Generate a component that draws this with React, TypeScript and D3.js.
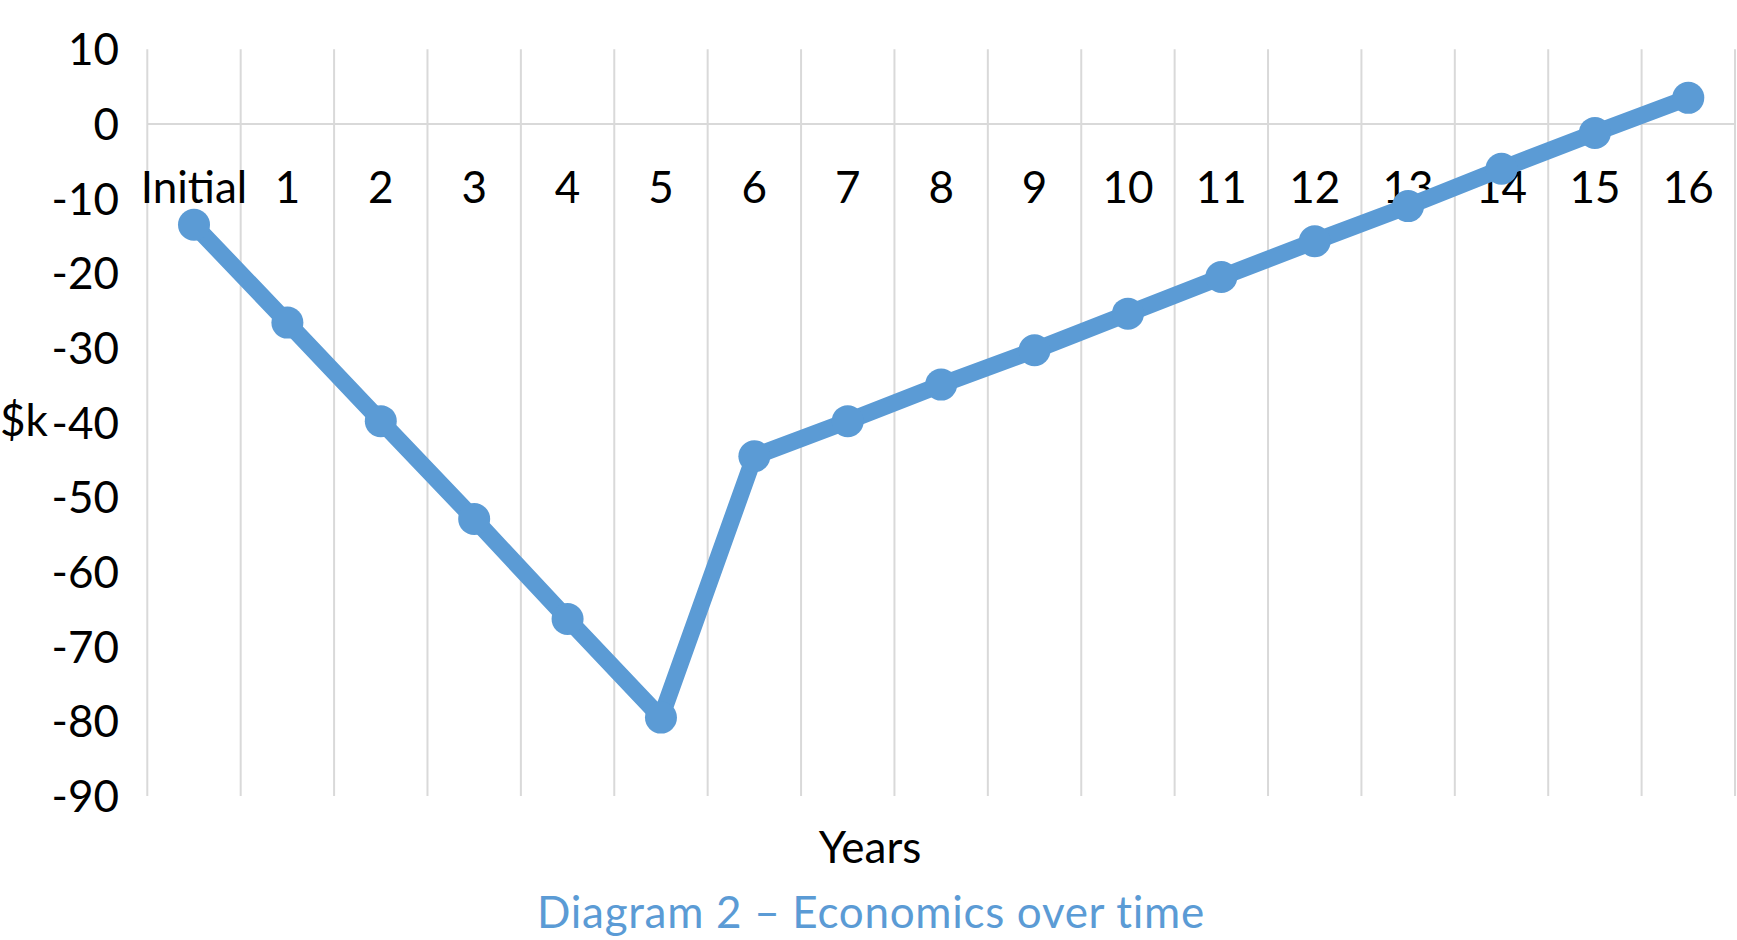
import * as d3 from "d3";
import React, { useEffect, useRef } from "react";

const categories = ["Initial", "1", "2", "3", "4", "5", "6", "7", "8", "9", "10", "11", "12", "13", "14", "15", "16"];
const values = [-13.5, -26.6, -39.8, -52.9, -66.3, -79.5, -44.5, -39.8, -34.9, -30.3, -25.4, -20.5, -15.7, -11.0, -6.0, -1.2, 3.5];
const yTicks = [10, 0, -10, -20, -30, -40, -50, -60, -70, -80, -90];

const BLUE = "#5B9BD5";
const GRID = "#D9D9D9";
const FONT = "Lato, 'Open Sans', sans-serif";

export default function App() {
  const ref = useRef<SVGSVGElement>(null);

  useEffect(() => {
    const width = 1737;
    const height = 940;
    const svg = d3.select(ref.current).attr("width", width).attr("height", height);
    svg.selectAll("*").remove();

    const xScale = d3.scaleBand<string>().domain(categories).range([147.3, 1735]);
    const yScale = d3.scaleLinear().domain([-90, 10]).range([796, 49.3]);

    // vertical gridlines at the band edges
    const edges = categories.map((c) => xScale(c) as number).concat([1735]);
    svg
      .append("g")
      .selectAll("line")
      .data(edges)
      .enter()
      .append("line")
      .attr("x1", (d) => d)
      .attr("x2", (d) => d)
      .attr("y1", yScale(10))
      .attr("y2", yScale(-90))
      .attr("stroke", GRID)
      .attr("stroke-width", 2);

    // horizontal axis line at 0
    svg
      .append("line")
      .attr("x1", xScale.range()[0])
      .attr("x2", xScale.range()[1])
      .attr("y1", yScale(0))
      .attr("y2", yScale(0))
      .attr("stroke", GRID)
      .attr("stroke-width", 2);

    // y tick labels
    svg
      .append("g")
      .selectAll("text")
      .data(yTicks)
      .enter()
      .append("text")
      .attr("x", 119)
      .attr("y", (d) => yScale(d) - 1)
      .attr("dominant-baseline", "central")
      .attr("text-anchor", "end")
      .attr("font-family", FONT)
      .attr("font-size", 44)
      .attr("fill", "#000")
      .text((d) => d);

    // category labels
    svg
      .append("g")
      .selectAll("text")
      .data(categories)
      .enter()
      .append("text")
      .attr("x", (d) => (xScale(d) as number) + xScale.bandwidth() / 2)
      .attr("y", 203)
      .attr("text-anchor", "middle")
      .attr("font-family", FONT)
      .attr("font-size", 44)
      .attr("fill", "#000")
      .text((d) => d);

    const pts = categories.map((c, i) => [
      (xScale(c) as number) + xScale.bandwidth() / 2,
      yScale(values[i]),
    ] as [number, number]);

    const line = d3.line();
    svg
      .append("path")
      .attr("d", line(pts))
      .attr("fill", "none")
      .attr("stroke", BLUE)
      .attr("stroke-width", 17)
      .attr("stroke-linejoin", "round");

    svg
      .append("g")
      .selectAll("circle")
      .data(pts)
      .enter()
      .append("circle")
      .attr("cx", (d) => d[0])
      .attr("cy", (d) => d[1])
      .attr("r", 16)
      .attr("fill", BLUE);

    // axis titles
    svg
      .append("text")
      .attr("x", 0)
      .attr("y", 436)
      .attr("font-family", FONT)
      .attr("font-size", 44)
      .attr("fill", "#000")
      .text("$k");

    svg
      .append("text")
      .attr("x", 870)
      .attr("y", 863)
      .attr("text-anchor", "middle")
      .attr("font-family", FONT)
      .attr("font-size", 44)
      .attr("fill", "#000")
      .text("Years");

    svg
      .append("text")
      .attr("x", 871)
      .attr("y", 928)
      .attr("text-anchor", "middle")
      .attr("font-family", FONT)
      .attr("font-size", 44)
      .attr("letter-spacing", 0.7)
      .attr("fill", BLUE)
      .text("Diagram 2 – Economics over time");
  }, []);

  return (
    <svg
      ref={ref}
      style={{ position: "absolute", left: 0, top: 0, display: "block", background: "#fff" }}
    ></svg>
  );
}
